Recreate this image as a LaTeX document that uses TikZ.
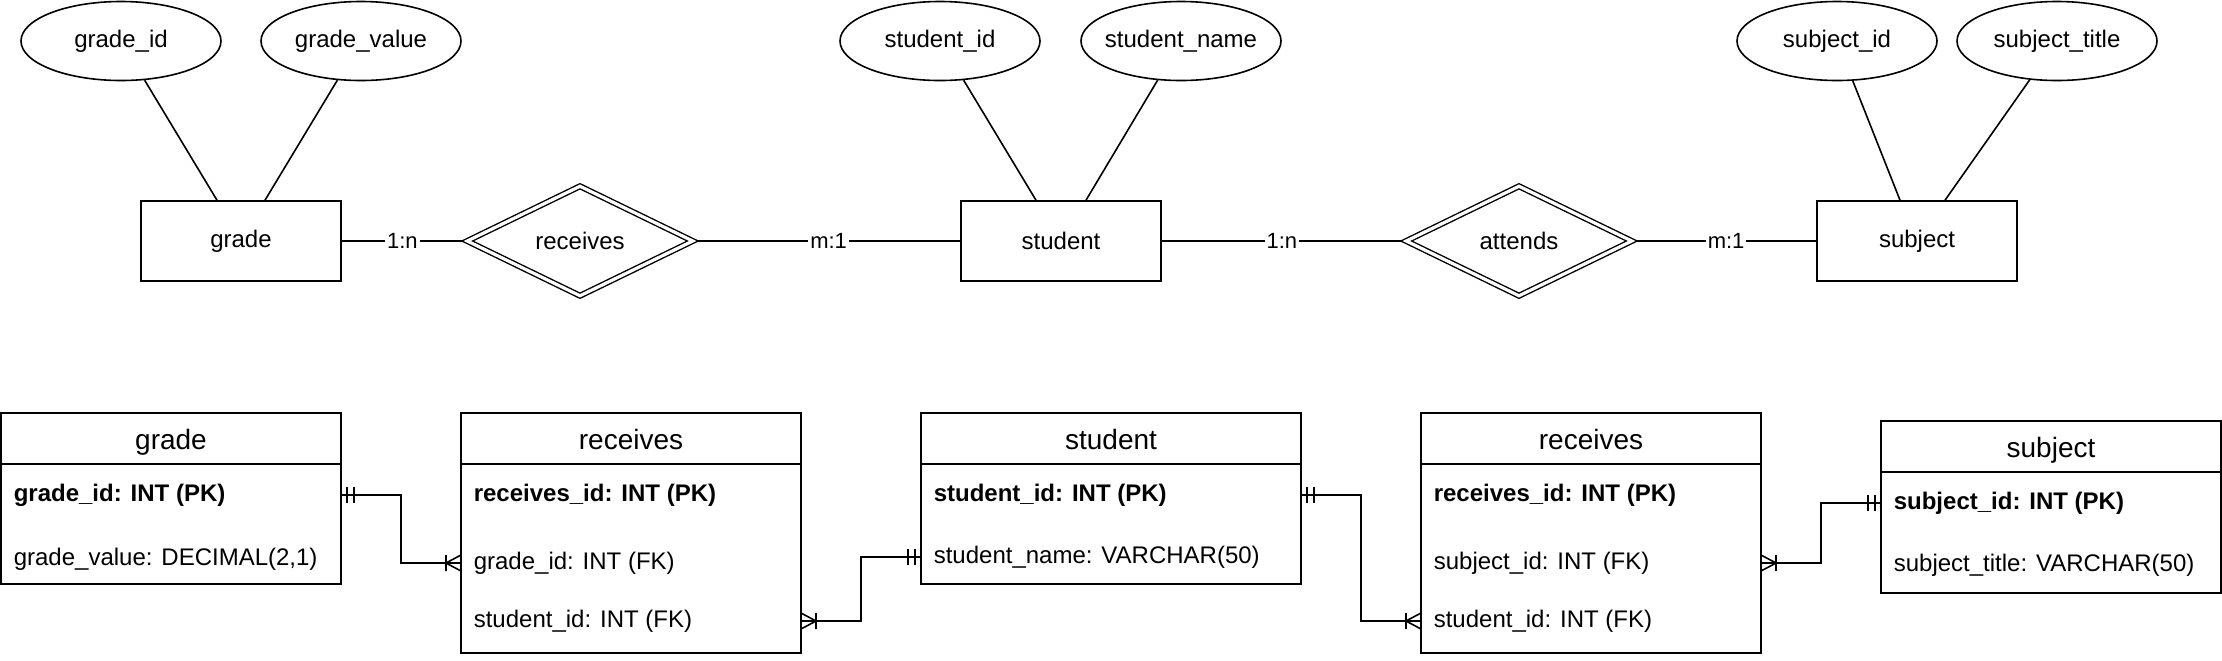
\documentclass[tikz,border=0pt]{standalone}
\usepackage{fontspec}
\setmainfont{Liberation Sans}
\usetikzlibrary{shapes.geometric,positioning,calc}

\tikzset{
  one/.pic={\draw (-6,-8) -- (-6,8) (-13,-8) -- (-13,8);},
  many/.pic={\draw (0,-8) -- (-15,0) -- (0,8) (-15,-8) -- (-15,8);}
}

\begin{document}
\begin{tikzpicture}[x=0.5pt,y=-0.5pt,line width=0.8pt,
    attr/.style={draw,ellipse,minimum width=100pt,minimum height=39.5pt,inner sep=0pt,inner xsep=-6pt,font=\fontsize{12}{14}\selectfont},
    entity/.style={draw,rectangle,minimum width=100pt,minimum height=40pt,font=\fontsize{12}{14}\selectfont},
    relship/.style={draw,diamond,double,double distance=1.6pt,line width=0.7pt,minimum width=114pt,minimum height=56pt,inner sep=0pt,outer sep=1.5pt,font=\fontsize{12}{14}\selectfont},
    card/.style={fill=white,inner sep=1pt,font=\fontsize{11}{13}\selectfont},
    thead/.style={draw,rectangle,outer sep=0pt,inner sep=0pt,minimum width=170pt,minimum height=25.5pt,text height=13pt,text depth=1.7pt,font=\fontsize{14}{16}\selectfont},
    tbody/.style={draw,rectangle,outer sep=0pt,inner sep=0pt,minimum width=170pt},
    fk/.style={anchor=west,inner sep=0pt,font=\fontsize{12}{14}\selectfont},
    pk/.style={fk,font=\fontsize{12}{14}\selectfont\bfseries}]
  \useasboundingbox (0,0) rectangle (2222,660);

  % chen diagram
  \node[attr] (gid) at (121,41) {grade\_id};
  \node[attr] (gval) at (361,41) {grade\_value};
  \node[entity] (grade) at (241,241) {grade};
  \node[relship] (rec) at (580,241) {receives};
  \node[attr] (sid) at (940,41) {student\_id};
  \node[attr] (sname) at (1181,41) {student\_name};
  \node[entity] (student) at (1061,241) {student};
  \node[relship] (att) at (1519,241) {attends};
  \node[attr] (subid) at (1837,41) {subject\_id};
  \node[attr] (subtitle) at (2057,41) {subject\_title};
  \node[entity] (subject) at (1917,241) {subject};

  \draw ($(grade.north)+(-24,0)$) -- (gid);
  \draw ($(grade.north)+(24,0)$) -- (gval);
  \draw ($(student.north)+(-25,0)$) -- (sid);
  \draw ($(student.north)+(25,0)$) -- (sname);
  \draw ($(subject.north)+(-17,0)$) -- (subid);
  \draw ($(subject.north)+(28,0)$) -- (subtitle);

  \draw (grade) -- node[card] {1:n} (rec);
  \draw (rec) -- node[card] {m:1} (student);
  \draw (student) -- node[card] {1:n} (att);
  \draw (att) -- node[card] {m:1} (subject);

  % tables
  \node[thead] (gradeH) at (171,438.5) {grade};
  \node[tbody,minimum height=60pt,below=0pt of gradeH] (gradeB) {};
  \node[pk] (gradePK) at (13,495) {grade\_id: INT (PK)};
  \node[fk] (gradeVal) at (13,559) {grade\_value: DECIMAL(2,1)};

  \node[thead] (recH) at (631,438.5) {receives};
  \node[tbody,minimum height=94.5pt,below=0pt of recH] (recB) {};
  \node[pk] (recPK) at (473,495) {receives\_id: INT (PK)};
  \node[fk] (recGrade) at (473,563) {grade\_id: INT (FK)};
  \node[fk] (recStu) at (473,621) {student\_id: INT (FK)};

  \node[thead,minimum width=190pt] (stuH) at (1111,438.5) {student};
  \node[tbody,minimum width=190pt,minimum height=60pt,below=0pt of stuH] (stuB) {};
  \node[pk] (stuPK) at (933,495) {student\_id: INT (PK)};
  \node[fk] (stuName) at (933,557) {student\_name: VARCHAR(50)};

  \node[thead] (rec2H) at (1591,438.5) {receives};
  \node[tbody,minimum height=94.5pt,below=0pt of rec2H] (rec2B) {};
  \node[pk] (rec2PK) at (1433,495) {receives\_id: INT (PK)};
  \node[fk] (rec2Sub) at (1433,563) {subject\_id: INT (FK)};
  \node[fk] (rec2Stu) at (1433,621) {student\_id: INT (FK)};

  \node[thead] (subH) at (2051,446.5) {subject};
  \node[tbody,minimum height=60.5pt,below=0pt of subH] (subB) {};
  \node[pk] (subPK) at (1893,503) {subject\_id: INT (PK)};
  \node[fk] (subTitle) at (1893,565) {subject\_title: VARCHAR(50)};

  \draw (gradeB.east |- gradePK) pic[xscale=-1]{one} -- ++(60,0) |- (recB.west |- recGrade) pic{many};
  \draw (recB.east |- recStu) pic[xscale=-1]{many} -- ++(60,0) |- (stuB.west |- stuName) pic{one};
  \draw (stuB.east |- stuPK) pic[xscale=-1]{one} -- ++(60,0) |- (rec2B.west |- rec2Stu) pic{many};
  \draw (rec2B.east |- rec2Sub) pic[xscale=-1]{many} -- ++(60,0) |- (subB.west |- subPK) pic{one};
\end{tikzpicture}
\end{document}
